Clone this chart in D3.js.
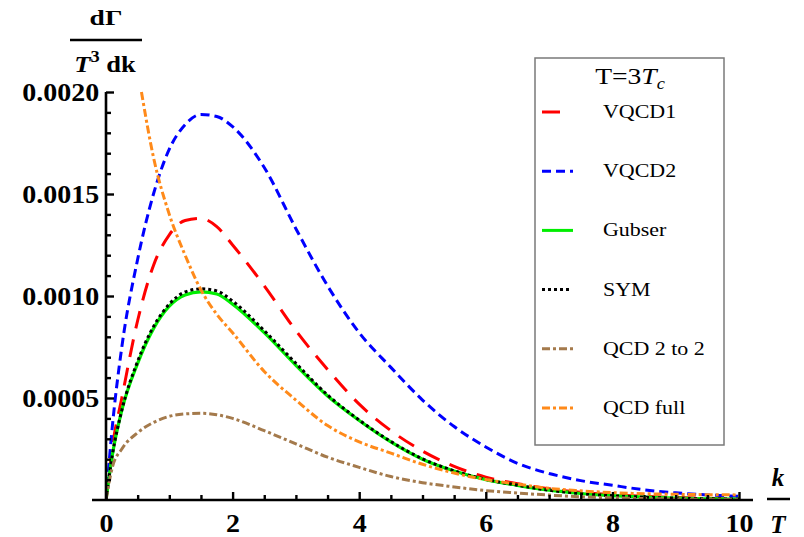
<!DOCTYPE html>
<html>
<head>
    <title></title>
    <style>
        body { margin: 0; background: #fff; }
        text { font-family: 'Liberation Serif', 'Times New Roman', serif; }
    </style>
</head>
<body>
<div id="container"></div>

<script src="https://d3js.org/d3.v7.min.js" type="text/javascript"></script>
<script type="text/javascript">
    // k/T grid
    const kValues = [0, 0.1, 0.25, 0.5, 0.75, 1, 1.25, 1.5, 1.75, 2, 2.5, 3, 3.5, 4, 4.5, 5, 5.5, 6, 6.5, 7, 7.5, 8, 8.5, 9, 9.5, 10];

    const vqcd1 = [0, 0.00026, 0.00050, 0.00088, 0.00115, 0.00130, 0.00137, 0.00138, 0.00134, 0.00125, 0.00105, 0.00083, 0.00064, 0.00047, 0.00034, 0.00024, 0.000165, 0.000112, 0.00008, 0.000055, 0.000038, 0.000026, 0.000018, 0.000012, 0.000008, 0.000005];
    const vqcd2 = [0, 0.00036, 0.00075, 0.00118, 0.00150, 0.00172, 0.00184, 0.00189, 0.00188, 0.00183, 0.00163, 0.00133, 0.00105, 0.00082, 0.00065, 0.00049, 0.00036, 0.00026, 0.00018, 0.00013, 0.000095, 0.000072, 0.00005, 0.000035, 0.000025, 0.000018];
    const gubser = [0, 0.00022, 0.00044, 0.00067, 0.00084, 0.00095, 0.001005, 0.00102, 0.00101, 0.00096, 0.00082, 0.00066, 0.00051, 0.00039, 0.000285, 0.00020, 0.000142, 0.00010, 0.000072, 0.000048, 0.000032, 0.000021, 0.000014, 0.000009, 0.000006, 0.000004];
    const sym = [0, 0.00022, 0.00044, 0.00068, 0.00085, 0.00096, 0.00102, 0.001035, 0.001025, 0.000975, 0.00083, 0.00067, 0.000515, 0.000392, 0.000287, 0.000202, 0.000143, 0.000101, 0.000072, 0.000048, 0.000032, 0.000021, 0.000014, 0.000009, 0.000006, 0.000004];
    const qcd22 = [0, 0.00016, 0.00025, 0.00033, 0.00038, 0.00041, 0.000422, 0.000425, 0.000418, 0.00040, 0.00034, 0.000275, 0.00021, 0.00016, 0.000115, 0.000085, 0.000064, 0.000046, 0.000034, 0.000024, 0.000016, 0.000011, 0.000007, 0.000005, 0.000003, 0.000002];

    // QCD full diverges at small k, it enters the frame at the top
    const kFull = [0.56, 0.75, 1, 1.25, 1.5, 1.75, 2, 2.5, 3, 3.5, 4, 4.5, 5, 5.5, 6, 6.5, 7, 7.5, 8, 8.5, 9, 9.5, 10];
    const qcdFull = [0.0020, 0.00168, 0.00140, 0.00120, 0.00103, 0.00091, 0.00082, 0.00063, 0.00049, 0.000365, 0.000285, 0.00023, 0.000175, 0.000132, 0.00010, 0.000078, 0.000057, 0.000045, 0.000036, 0.000031, 0.000028, 0.000026, 0.000025];

    const seriesNames = ['VQCD1', 'VQCD2', 'Gubser', 'SYM', 'QCD 2 to 2', 'QCD full'];
    const xTicks = [0, 2, 4, 6, 8, 10];
    const yTicks = [0.0005, 0.0010, 0.0015, 0.0020];

    let w = 804;
    let h = 537;
    const svg = d3.select('#container')
        .append('svg')
        .attr('width', w)
        .attr('height', h)

    const margin = { top: 92, left: 106, right: 65, bottom: 37 };

    let x = d3.scaleLinear().domain([0, 10]).range([margin.left, w - margin.right]);
    let y = d3.scaleLinear().domain([0, 0.002]).range([h - margin.bottom, margin.top]);

    const series = [
        { name: seriesNames[0], k: kValues, v: vqcd1, color: '#ff0000', dash: '18,11', lw: 3, legLen: 18 },
        { name: seriesNames[1], k: kValues, v: vqcd2, color: '#0000ff', dash: '9,5', lw: 3, legLen: 31 },
        { name: seriesNames[2], k: kValues, v: gubser, color: '#00ee00', dash: null, lw: 3.2, legLen: 31 },
        { name: seriesNames[3], k: kValues, v: sym, color: '#000000', dash: '3,3', lw: 3, legLen: 27 },
        { name: seriesNames[4], k: kValues, v: qcd22, color: '#a47a4c', dash: '8,3,3,3', lw: 3, legLen: 31 },
        { name: seriesNames[5], k: kFull, v: qcdFull, color: '#ff8a1a', dash: '8,3,3,3', lw: 3, legLen: 31 },
    ];

    svg.append('defs').append('clipPath').attr('id', 'plotclip')
        .append('rect')
        .attr('x', margin.left)
        .attr('y', margin.top - 2)
        .attr('width', x(10) - margin.left + 4)
        .attr('height', y(0) - margin.top + 2);

    // curves
    const curves = svg.append('g').attr('clip-path', 'url(#plotclip)');
    let line = d3.line()
        .x(d => x(d[0]))
        .y(d => y(d[1]))
        .curve(d3.curveMonotoneX);

    series.forEach(s => {
        let pts = s.k.map((k, i) => [k, s.v[i]]);
        curves.append('path')
            .attr('d', line(pts))
            .style('fill', 'none')
            .style('stroke', s.color)
            .style('stroke-width', s.lw)
            .style('stroke-dasharray', s.dash);
    });

    // axes
    const axisColor = '#000';
    svg.append('line')
        .attr('x1', 92).attr('x2', 753)
        .attr('y1', y(0)).attr('y2', y(0))
        .style('stroke', axisColor).style('stroke-width', 2.6);
    svg.append('line')
        .attr('x1', x(0)).attr('x2', x(0))
        .attr('y1', y(0.002)).attr('y2', y(0) + 1)
        .style('stroke', axisColor).style('stroke-width', 2.6);

    let xMinor = d3.range(0.5, 10, 0.5).filter(v => v % 2 !== 0);
    let yMinor = d3.range(1, 20).filter(v => v % 5 !== 0).map(v => v * 0.0001);

    let xAxis = d3.axisBottom(x).tickValues(xTicks).tickSizeInner(-8).tickSizeOuter(0).tickPadding(14).tickFormat(d3.format('d'));
    let xAxisMinor = d3.axisBottom(x).tickValues(xMinor).tickSizeInner(-5).tickSizeOuter(0).tickFormat('');
    let yAxis = d3.axisLeft(y).tickValues(yTicks).tickSizeInner(-8).tickSizeOuter(0).tickPadding(6).tickFormat(d3.format('.4f'));
    let yAxisMinor = d3.axisLeft(y).tickValues(yMinor).tickSizeInner(-5).tickSizeOuter(0).tickFormat('');

    [
        [xAxis, `translate(0, ${y(0)})`],
        [xAxisMinor, `translate(0, ${y(0)})`],
        [yAxis, `translate(${x(0)}, 0)`],
        [yAxisMinor, `translate(${x(0)}, 0)`],
    ].forEach(([ax, tr]) => {
        let g = svg.append('g').attr('transform', tr).call(ax);
        g.select('.domain').remove();
        g.selectAll('.tick line').style('stroke', axisColor).style('stroke-width', 2.4);
        g.selectAll('.tick text')
            .style('font-family', "'Liberation Serif', serif")
            .style('font-size', '25px')
            .style('font-weight', 'bold')
            .style('fill', '#000')
            .attr('transform', 'scale(1.12,1)');
    });

    function stretched(parent, px, py, sx) {
        return parent.append('text')
            .attr('transform', `translate(${px},${py}) scale(${sx},1)`);
    }

    // y axis title: dΓ / (T^3 dk)
    let yt = svg.append('g').style('font-weight', 'bold').style('fill', '#000');
    stretched(yt, 106, 25, 1.25)
        .attr('text-anchor', 'middle')
        .style('font-size', '22px')
        .text('dΓ');
    yt.append('line')
        .attr('x1', 70).attr('x2', 142).attr('y1', 40).attr('y2', 40)
        .style('stroke', '#000').style('stroke-width', 2.5);
    let yt2 = stretched(yt, 105, 72, 1.15)
        .attr('text-anchor', 'middle')
        .style('font-size', '23px');
    yt2.append('tspan').style('font-style', 'italic').text('T');
    yt2.append('tspan').attr('dy', -10).style('font-size', '16px').text('3');
    yt2.append('tspan').attr('dy', 10).text(' dk');

    // x axis title: k / T
    let xt = svg.append('g').style('font-weight', 'bold').style('font-style', 'italic').style('fill', '#000');
    xt.append('text').attr('x', 778).attr('y', 486).attr('text-anchor', 'middle').style('font-size', '25px').text('k');
    xt.append('line')
        .attr('x1', 767).attr('x2', 790).attr('y1', 499).attr('y2', 499)
        .style('stroke', '#000').style('stroke-width', 2.5);
    xt.append('text').attr('x', 778).attr('y', 533).attr('text-anchor', 'middle').style('font-size', '25px').text('T');

    // legend
    const leg = svg.append('g');
    leg.append('rect')
        .attr('x', 535).attr('y', 58)
        .attr('width', 189).attr('height', 387)
        .style('fill', '#fff')
        .style('stroke', '#7a7a7a')
        .style('stroke-width', 1.5);

    let title = stretched(leg, 630, 84, 1.15)
        .attr('text-anchor', 'middle')
        .style('font-size', '24px')
        .style('fill', '#000');
    title.append('tspan').text('T=3');
    title.append('tspan').style('font-style', 'italic').text('T');
    title.append('tspan').attr('dy', 5).style('font-style', 'italic').style('font-size', '16px').text('c');

    let legY = d3.scalePoint().domain(seriesNames).range([112, 408]);
    series.forEach(s => {
        let ly = legY(s.name);
        leg.append('line')
            .attr('x1', 542).attr('x2', 542 + s.legLen)
            .attr('y1', ly).attr('y2', ly)
            .style('stroke', s.color)
            .style('stroke-width', 3)
            .style('stroke-dasharray', s.name === 'VQCD1' ? null : s.dash);
        stretched(leg, 603, ly + 6, 1.22)
            .style('font-size', '18px')
            .style('fill', '#000')
            .text(s.name);
    });
</script>

</body>
</html>
